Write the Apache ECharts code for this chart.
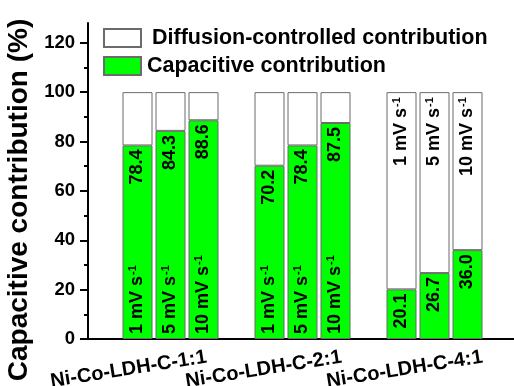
<!DOCTYPE html>
<html>
<head>
<meta charset="utf-8">
<script src="https://cdn.jsdelivr.net/npm/echarts@6/dist/echarts.min.js"></script>
<style>
  html, body { margin: 0; padding: 0; background: #fff; }
  #chart { width: 514px; height: 386px; }
</style>
</head>
<body>
<div id="chart"></div>
<script>
// Samples, scan rates and capacitive share (%) at each rate
const samples = ['Ni-Co-LDH-C-1:1', 'Ni-Co-LDH-C-2:1', 'Ni-Co-LDH-C-4:1'];
const scanRates = ['1', '5', '10'];
const capacitive = [
  [78.4, 84.3, 88.6],
  [70.2, 78.4, 87.5],
  [20.1, 26.7, 36.0]
];
const yMajorTicks = [0, 20, 40, 60, 80, 100, 120];
const yMinorTicks = [10, 30, 50, 70, 90, 110];

// Bar slots: one empty slot between sample groups
const SLOTS = 13;
const groupStart = g => 4 * g + 1;
// Sample names sit on a finer hidden category scale (11 steps per bar slot)
const FINE = SLOTS * 11;
const nameAnchor = [39, 84, 131];

const FONT = '"Liberation Sans", Arial, sans-serif';
const GREEN = '#00ff00';
const EDGE = '#6b6b6b';

const slotAxis = [];
for (let i = 0; i < SLOTS; i++) slotAxis.push('slot' + i);
const fineAxis = [];
for (let i = 0; i < FINE; i++) fineAxis.push('f' + i);
const sampleLabel = (v, idx) => {
  const g = nameAnchor.indexOf(idx);
  return g >= 0 ? samples[g] : '';
};

const capData = new Array(SLOTS).fill('-');
const difData = new Array(SLOTS).fill('-');
const rateData = new Array(SLOTS).fill('-');

samples.forEach((s, g) => {
  scanRates.forEach((r, k) => {
    const i = groupStart(g) + k;
    const c = capacitive[g][k];
    capData[i] = c;
    difData[i] = +(100 - c).toFixed(1);
    const atTop = c < 50;
    rateData[i] = {
      value: 100,
      label: {
        show: true,
        rotate: 90,
        position: atTop ? 'insideTop' : 'insideBottom',
        distance: 5,
        align: atTop ? 'right' : 'left',
        verticalAlign: 'middle',
        formatter: '{n|' + r + ' mV s}{sup|-1}',
        rich: {
          n: { fontSize: 18, fontWeight: 'bold', fontFamily: FONT, color: '#000', lineHeight: 20 },
          sup: { fontSize: 11, fontWeight: 'bold', fontFamily: FONT, color: '#000', verticalAlign: 'top', padding: [0, 0, 0, 1] }
        }
      }
    };
  });
});

const chart = echarts.init(document.getElementById('chart'));
chart.setOption({
  animation: false,
  backgroundColor: '#fff',
  textStyle: { fontFamily: FONT },
  grid: { left: 88, top: 23, width: 429, height: 316, outerBoundsMode: 'none', containLabel: false },
  legend: {
    orient: 'vertical',
    left: 103,
    top: 27,
    padding: 0,
    icon: 'rect',
    itemWidth: 37,
    itemHeight: 18,
    itemGap: 6,
    selectedMode: false,
    textStyle: { fontSize: 21.5, fontWeight: 'bold', color: '#000', fontFamily: FONT },
    data: [
      { name: 'Diffusion-controlled contribution', textStyle: { padding: [0, 0, 0, 6] } },
      { name: 'Capacitive contribution', textStyle: { padding: [0, 0, 0, 1] } }
    ]
  },
  xAxis: [
    {
      type: 'category',
      data: slotAxis,
      position: 'bottom',
      axisLine: { lineStyle: { color: '#000', width: 2 } },
      axisTick: { show: false },
      axisLabel: { show: false },
      splitLine: { show: false }
    },
    {
      type: 'category',
      data: slotAxis,
      position: 'top',
      axisLine: { show: true, lineStyle: { color: '#000', width: 2 } },
      axisTick: { show: false },
      axisLabel: { show: false },
      splitLine: { show: false }
    },
    {
      type: 'category',
      data: fineAxis,
      position: 'bottom',
      axisLine: { show: false },
      axisTick: { show: false },
      splitLine: { show: false },
      axisLabel: {
        interval: 0,
        rotate: 9,
        margin: 18,
        fontSize: 20,
        fontWeight: 'bold',
        color: '#000',
        fontFamily: FONT,
        formatter: sampleLabel
      }
    }
  ],
  yAxis: [
    {
      type: 'value',
      min: 0,
      max: 128,
      position: 'left',
      name: 'Capacitive contribution (%)',
      nameLocation: 'middle',
      nameGap: 45,
      nameTextStyle: { fontSize: 28, fontWeight: 'bold', color: '#000', fontFamily: FONT, padding: [0, 38, 0, 0] },
      axisLine: { show: true, lineStyle: { color: '#000', width: 2 } },
      axisTick: { show: true, customValues: yMajorTicks, length: 8, lineStyle: { color: '#000', width: 2 } },
      axisLabel: { customValues: yMajorTicks, margin: 13, fontSize: 18.5, fontWeight: 'bold', color: '#000', fontFamily: FONT },
      splitLine: { show: false }
    },
    {
      type: 'value',
      min: 0,
      max: 128,
      position: 'left',
      axisLine: { show: false },
      axisTick: { show: true, customValues: yMinorTicks, length: 4, lineStyle: { color: '#000', width: 2 } },
      axisLabel: { show: false },
      splitLine: { show: false }
    }
  ],
  series: [
    {
      name: 'Capacitive contribution',
      type: 'bar',
      stack: 'total',
      barWidth: 30,
      barGap: '-100%',
      data: capData,
      itemStyle: { color: GREEN, borderColor: EDGE, borderWidth: 1 },
      label: {
        show: true,
        rotate: 90,
        position: 'insideTop',
        distance: 4,
        align: 'right',
        verticalAlign: 'middle',
        fontSize: 18,
        fontWeight: 'bold',
        color: '#000',
        fontFamily: FONT,
        formatter: p => p.value.toFixed(1)
      }
    },
    {
      name: 'Diffusion-controlled contribution',
      type: 'bar',
      stack: 'total',
      barWidth: 30,
      barGap: '-100%',
      data: difData,
      itemStyle: { color: '#fff', borderColor: EDGE, borderWidth: 1 }
    },
    {
      name: 'rates',
      type: 'bar',
      barWidth: 30,
      barGap: '-100%',
      z: 5,
      data: rateData,
      itemStyle: { color: 'rgba(0,0,0,0)', borderWidth: 0 },
      tooltip: { show: false }
    }
  ]
});
</script>
</body>
</html>
